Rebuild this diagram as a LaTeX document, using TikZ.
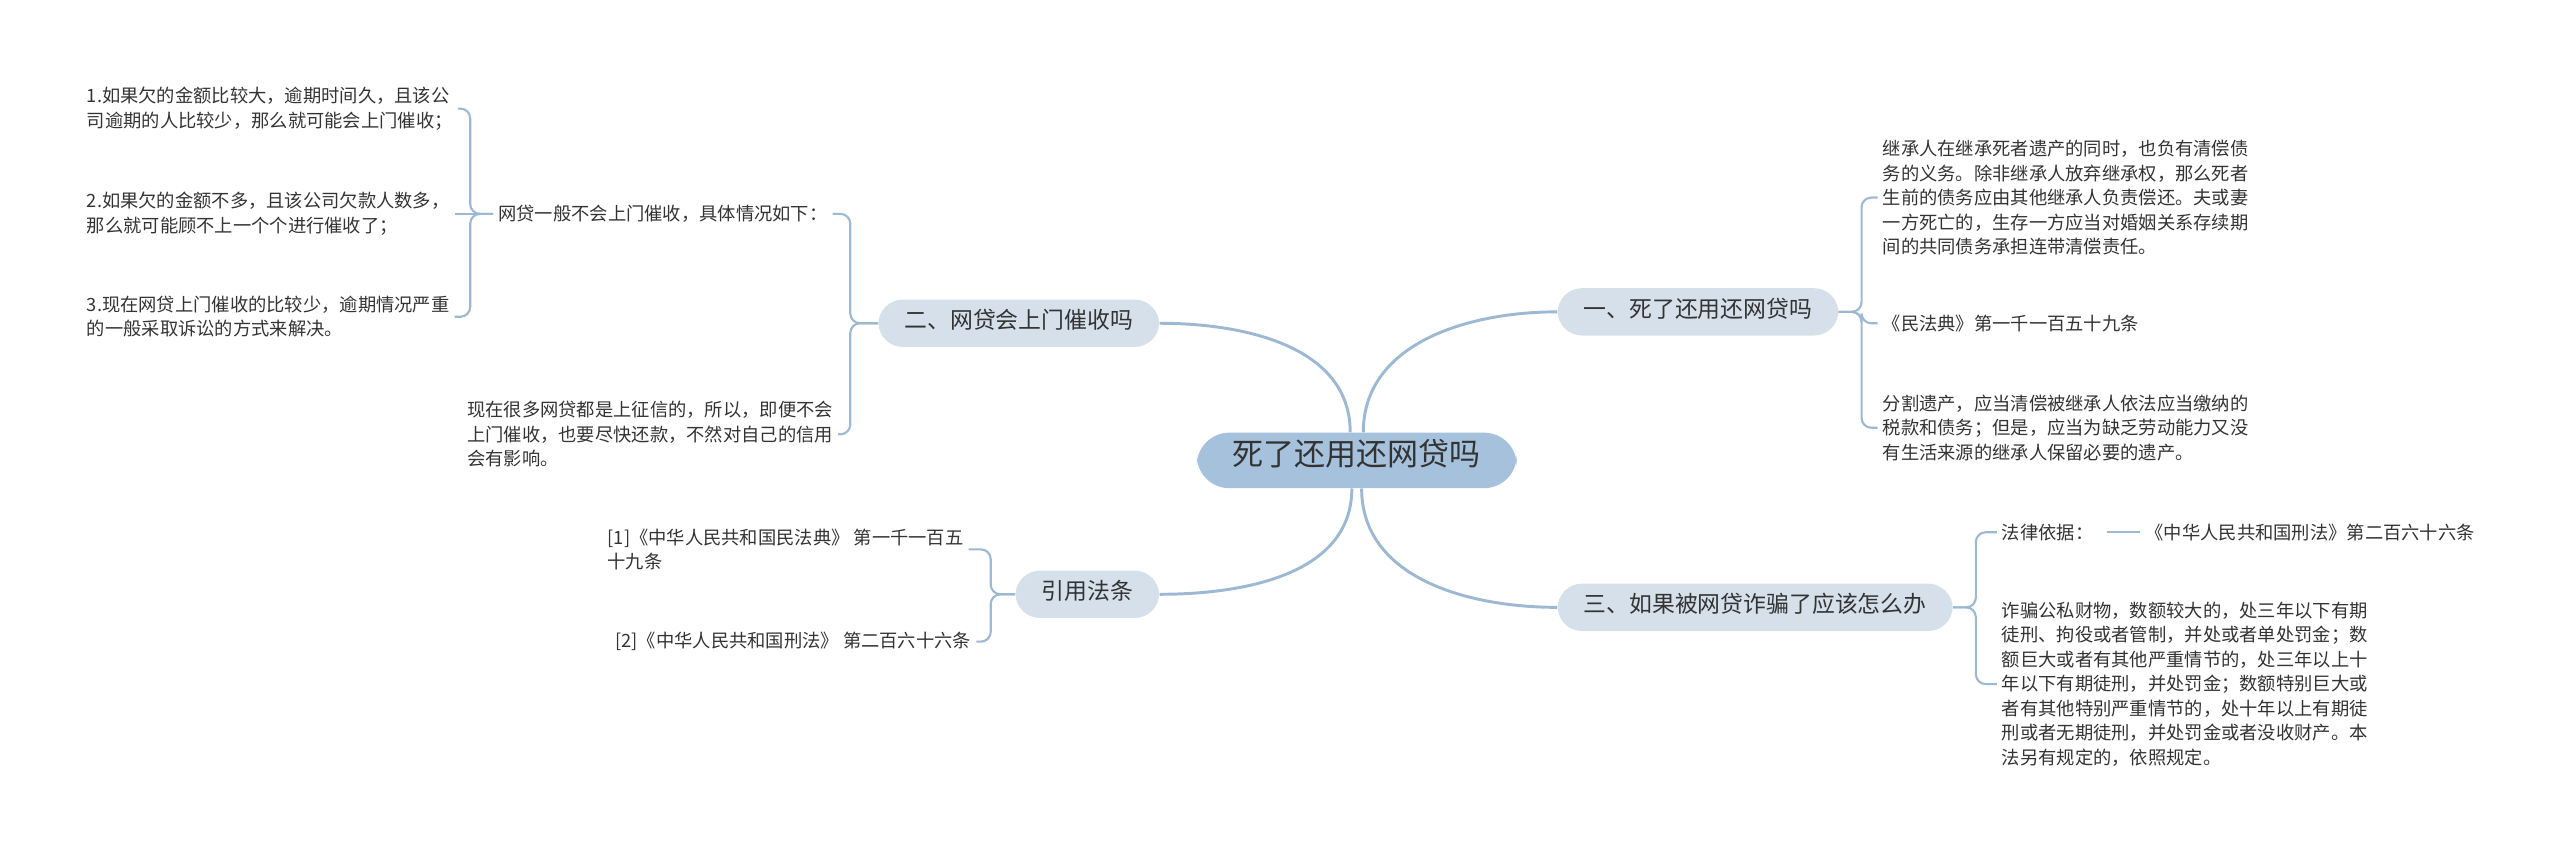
\documentclass[tikz,border=0pt]{standalone}
\usepackage{fontspec}
\setmainfont{Noto Sans CJK SC}
\usepackage{tikz}
\usetikzlibrary{positioning}
\definecolor{linec}{HTML}{9DB8D2}
\definecolor{rootc}{HTML}{A5C1DC}
\definecolor{topicc}{HTML}{D5E0EA}
\definecolor{txtc}{HTML}{333333}
\tikzset{
  rootbox/.style={fill=rootc, rounded corners=20pt, inner xsep=22pt, inner ysep=12pt,
    text height=0.82em, text depth=0.18em, text=txtc, font=\fontsize{19}{22}\selectfont},
  topicbox/.style={fill=topicc, rounded corners=15pt, inner xsep=16pt, inner ysep=9.5pt,
    text height=0.82em, text depth=0.18em, text=txtc, font=\fontsize{14}{17}\selectfont},
  leafbox/.style={align=left, inner xsep=3pt, inner ysep=0pt, text=txtc,
    font=\fontsize{11.2}{15}\selectfont},
  branchline/.style={draw=linec, line width=1.8pt},
  brackline/.style={draw=linec, line width=1.3pt, rounded corners=6pt}
}
\begin{document}
\begin{tikzpicture}[x=1pt, y=-1pt]
  \useasboundingbox (0,0) rectangle (1568,522);
  % main topics
  \node[rootbox] (M) at (831,282) {死了还用还网贷吗};
  \node[topicbox] (A) at (1040,191) {一、死了还用还网贷吗};
  \node[topicbox] (B) at (624,198) {二、网贷会上门催收吗};
  \node[topicbox] (C) at (1075,372) {三、如果被网贷诈骗了应该怎么办};
  \node[topicbox] (D) at (666,364) {引用法条};
  \draw[branchline] ([xshift=4pt]M.north) to[out=90, in=180] (A.west);
  \draw[branchline] ([xshift=-4pt]M.north) to[out=90, in=0] (B.east);
  \draw[branchline] ([xshift=3pt]M.south) to[out=-90, in=180] (C.west);
  \draw[branchline] ([xshift=-3pt]M.south) to[out=-90, in=0] (D.east);
  % one
  \node[leafbox, anchor=west] (a1) at (1150,121) {继承人在继承死者遗产的同时，也负有清偿债\\务的义务。除非继承人放弃继承权，那么死者\\生前的债务应由其他继承人负责偿还。夫或妻\\一方死亡的，生存一方应当对婚姻关系存续期\\间的共同债务承担连带清偿责任。};
  \node[leafbox, anchor=west] (a2) at (1150,198) {《民法典》第一千一百五十九条};
  \node[leafbox, anchor=west] (a3) at (1150,262) {分割遗产，应当清偿被继承人依法应当缴纳的\\税款和债务；但是，应当为缺乏劳动能力又没\\有生活来源的继承人保留必要的遗产。};
  \foreach \n in {a1,a2,a3}
    \draw[brackline] (A.east) -- ++(14,0) |- (\n.west);
  % two
  \node[leafbox, anchor=east] (b1) at (510,131) {网贷一般不会上门催收，具体情况如下：};
  \node[leafbox, anchor=west] (b2) at (283,266) {现在很多网贷都是上征信的，所以，即便不会\\上门催收，也要尽快还款，不然对自己的信用\\会有影响。};
  \foreach \n in {b1,b2}
    \draw[brackline] (B.west) -- ++(-17,0) |- (\n.east);
  \node[leafbox, anchor=west] (b11) at (50,66.5) {1.如果欠的金额比较大，逾期时间久，且该公\\司逾期的人比较少，那么就可能会上门催收；};
  \node[leafbox, anchor=west] (b12) at (50,131) {2.如果欠的金额不多，且该公司欠款人数多，\\那么就可能顾不上一个个进行催收了；};
  \node[leafbox, anchor=west] (b13) at (50,194) {3.现在网贷上门催收的比较少，逾期情况严重\\的一般采取诉讼的方式来解决。};
  \foreach \n in {b11,b13}
    \draw[brackline] (b1.west) -- ++(-14,0) |- (\n.east);
  \draw[brackline] (b1.west) -- (b12.east);
  % three
  \node[leafbox, anchor=west] (c1) at (1223,326) {法律依据：};
  \node[leafbox, anchor=west] (c11) at (1311,326) {《中华人民共和国刑法》第二百六十六条};
  \draw[brackline, shorten <=5pt] (c1.east) -- (c11.west);
  \node[leafbox, anchor=west] (c2) at (1223,419) {诈骗公私财物，数额较大的，处三年以下有期\\徒刑、拘役或者管制，并处或者单处罚金；数\\额巨大或者有其他严重情节的，处三年以上十\\年以下有期徒刑，并处罚金；数额特别巨大或\\者有其他特别严重情节的，处十年以上有期徒\\刑或者无期徒刑，并处罚金或者没收财产。本\\法另有规定的，依照规定。};
  \foreach \n in {c1,c2}
    \draw[brackline] (C.east) -- ++(14,0) |- (\n.west);
  % references
  \node[leafbox, anchor=west] (d1) at (369,336.5) {[1]《中华人民共和国民法典》 第一千一百五\\十九条};
  \node[leafbox, anchor=east] (d2) at (598,393) {[2]《中华人民共和国刑法》 第二百六十六条};
  \foreach \n in {d1,d2}
    \draw[brackline] (D.west) -- ++(-15,0) |- (\n.east);
\end{tikzpicture}
\end{document}
